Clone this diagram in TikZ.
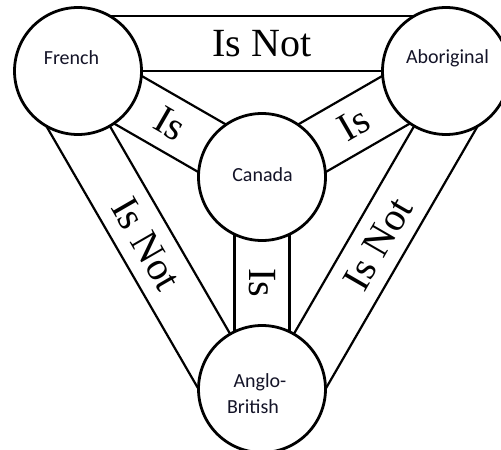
\documentclass[tikz,border=0pt]{standalone}
\usepackage{fontspec}
\setmainfont{Liberation Serif}
\newfontfamily\lblfont{Carlito}
\usetikzlibrary{calc}
\definecolor{lbl}{RGB}{20,20,40}
\begin{document}
\begin{tikzpicture}[x=1pt,y=-1pt,
  ent/.style={circle,draw=black,line width=2.8pt,fill=white,minimum size=127pt,inner sep=0pt},
  band/.style={draw=black,line width=2.2pt},
  rel/.style={font=\fontsize{40}{44}\selectfont,inner sep=0pt},
  lblname/.style={font=\lblfont\fontsize{20}{26}\selectfont,text=lbl,align=center,inner sep=0pt}]
\clip (0,0) rectangle (501,450);
\fill[white] (0,0) rectangle (501,450);
% centres
\coordinate (F) at (78,71);
\coordinate (A) at (446,71);
\coordinate (G) at (262,389);
\coordinate (C) at (262,177);
% outer bands (one edge on the centre line, widened outwards)
\draw[band] (F) -- (A);
\draw[band] ($(F)!55pt!90:(A)$) -- ($(A)!55pt!-90:(F)$);
\draw[band] (A) -- (G);
\draw[band] ($(A)!55pt!90:(G)$) -- ($(G)!55pt!-90:(A)$);
\draw[band] (G) -- (F);
\draw[band] ($(G)!55pt!90:(F)$) -- ($(F)!55pt!-90:(G)$);
% inner bands (centred on the centre line)
\draw[band] ($(C)!27.5pt!90:(F)$) -- ($(F)!27.5pt!-90:(C)$);
\draw[band] ($(C)!27.5pt!-90:(F)$) -- ($(F)!27.5pt!90:(C)$);
\draw[band] ($(C)!27.5pt!90:(A)$) -- ($(A)!27.5pt!-90:(C)$);
\draw[band] ($(C)!27.5pt!-90:(A)$) -- ($(A)!27.5pt!90:(C)$);
\draw[band] ($(C)!27.5pt!90:(G)$) -- ($(G)!27.5pt!-90:(C)$);
\draw[band] ($(C)!27.5pt!-90:(G)$) -- ($(G)!27.5pt!90:(C)$);
% circles
\node[ent] (french) at (F) {};
\node[ent] (abor) at (A) {};
\node[ent] (anglo) at (G) {};
\node[ent] (canada) at (C) {};
% names
\node[lblname,anchor=base] (tfrench) at (71.5,64) {French};
\node[lblname,anchor=base] (tabor) at (447.5,63) {Aboriginal};
\node[lblname,anchor=base] (tcanada) at (262.5,181) {Canada};
\node[lblname,anchor=center] (tanglo) at (260,394) {Anglo-\\British\hspace*{14pt}};
% relation labels
\path ($(french)!27.5pt!90:(abor)$) -- ($(abor)!27.5pt!-90:(french)$) node[rel,midway] (lFA) {Is Not};
\path ($(abor)!27.5pt!90:(anglo)$) -- ($(anglo)!27.5pt!-90:(abor)$) node[rel,midway,rotate=60] (lAG) {Is Not};
\path ($(anglo)!27.5pt!90:(french)$) -- ($(french)!27.5pt!-90:(anglo)$) node[rel,midway,rotate=-60] (lGF) {Is Not};
\path (canada) -- (french) node[rel,midway,rotate=-30] (lCF) {Is};
\path (canada) -- (abor) node[rel,midway,rotate=30] (lCA) {Is};
\path (canada) -- (anglo) node[rel,midway,rotate=-90] (lCG) {Is};
\end{tikzpicture}
\end{document}
